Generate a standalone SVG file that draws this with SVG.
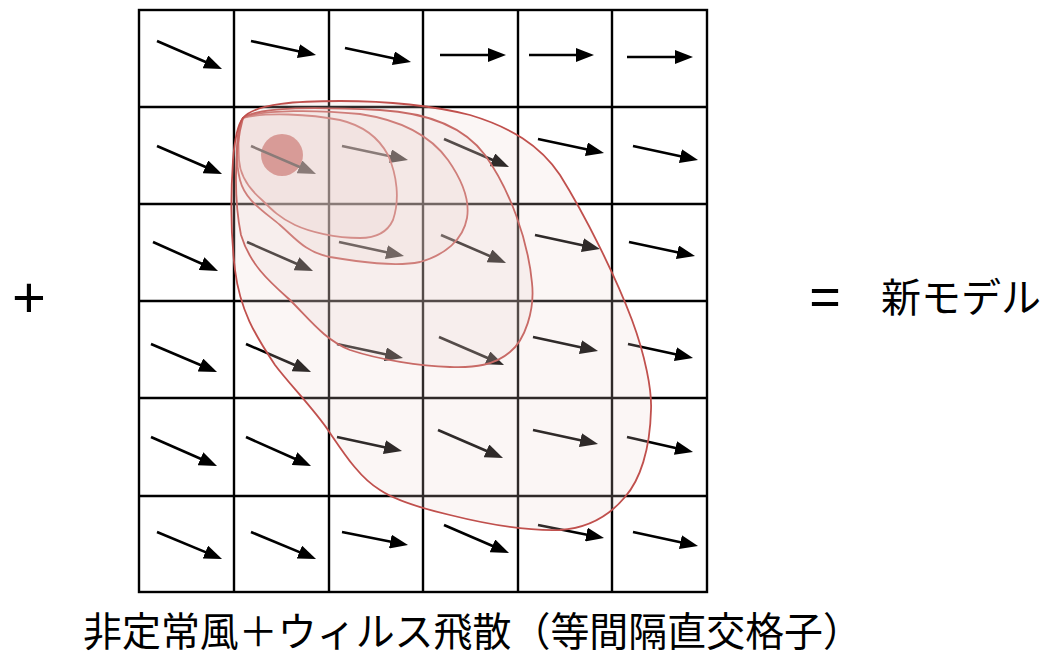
<svg xmlns="http://www.w3.org/2000/svg" width="1051" height="659" viewBox="0 0 1051 659">
<style>
.grid line{stroke:#000;stroke-width:2.4;}
.grid rect{fill:none;stroke:#000;stroke-width:2.4;}
.arr line{stroke:#000;stroke-width:2.6;stroke-dasharray:82 100;marker-end:url(#ah);}
.ct{fill:rgb(235,210,205);fill-opacity:0.2;stroke:#c0504d;stroke-width:1.8;}
.lbl{font-family:"Noto Sans CJK JP","Noto Sans",sans-serif;fill:#000;}
.sym{font-family:"Liberation Sans",Arial,sans-serif;fill:#000;}
</style>
<defs>
<marker id="ah" viewBox="0 0 18 14" refX="18" refY="7" markerWidth="18" markerHeight="14" markerUnits="userSpaceOnUse" orient="auto">
<path d="M0,0 L18,7 L0,14 Z" fill="#000"/>
</marker>
</defs>
<rect width="1051" height="659" fill="#fff"/>
<g id="grid" class="grid">
<rect x="139" y="10" width="568" height="582"/>
<line x1="234" y1="10" x2="234" y2="592"/>
<line x1="329" y1="10" x2="329" y2="592"/>
<line x1="423" y1="10" x2="423" y2="592"/>
<line x1="518" y1="10" x2="518" y2="592"/>
<line x1="612" y1="10" x2="612" y2="592"/>
<line x1="139" y1="107" x2="707" y2="107"/>
<line x1="139" y1="204" x2="707" y2="204"/>
<line x1="139" y1="301" x2="707" y2="301"/>
<line x1="139" y1="398" x2="707" y2="398"/>
<line x1="139" y1="496" x2="707" y2="496"/>
</g>
<g id="source">
<circle cx="282" cy="155" r="21" fill="#c0504d"/>
</g>
<g id="wind-arrows" class="arr">
<line pathLength="100" x1="157" y1="41" x2="222" y2="69"/>
<line pathLength="100" x1="251" y1="41" x2="316" y2="55"/>
<line pathLength="100" x1="345" y1="48" x2="411" y2="62"/>
<line pathLength="100" x1="440" y1="55" x2="506" y2="55"/>
<line pathLength="100" x1="529" y1="55" x2="594" y2="55"/>
<line pathLength="100" x1="627" y1="57" x2="693" y2="57"/>
<line pathLength="100" x1="157" y1="146" x2="222" y2="174"/>
<line pathLength="100" x1="251" y1="146" x2="316" y2="174"/>
<line pathLength="100" x1="342" y1="146" x2="408" y2="160"/>
<line pathLength="100" x1="444" y1="139" x2="509" y2="167"/>
<line pathLength="100" x1="538" y1="139" x2="604" y2="153"/>
<line pathLength="100" x1="633" y1="146" x2="698" y2="160"/>
<line pathLength="100" x1="153" y1="242" x2="218" y2="271"/>
<line pathLength="100" x1="247" y1="242" x2="313" y2="271"/>
<line pathLength="100" x1="339" y1="242" x2="404" y2="256"/>
<line pathLength="100" x1="441" y1="235" x2="506" y2="263"/>
<line pathLength="100" x1="535" y1="235" x2="600" y2="249"/>
<line pathLength="100" x1="629" y1="242" x2="695" y2="256"/>
<line pathLength="100" x1="151" y1="344" x2="217" y2="372"/>
<line pathLength="100" x1="246" y1="344" x2="311" y2="372"/>
<line pathLength="100" x1="337" y1="344" x2="403" y2="358"/>
<line pathLength="100" x1="439" y1="337" x2="504" y2="365"/>
<line pathLength="100" x1="533" y1="337" x2="598" y2="351"/>
<line pathLength="100" x1="628" y1="344" x2="693" y2="358"/>
<line pathLength="100" x1="151" y1="437" x2="217" y2="466"/>
<line pathLength="100" x1="246" y1="437" x2="311" y2="466"/>
<line pathLength="100" x1="337" y1="437" x2="402" y2="451"/>
<line pathLength="100" x1="438" y1="430" x2="503" y2="458"/>
<line pathLength="100" x1="533" y1="430" x2="598" y2="444"/>
<line pathLength="100" x1="627" y1="437" x2="693" y2="452"/>
<line pathLength="100" x1="157" y1="532" x2="222" y2="559"/>
<line pathLength="100" x1="251" y1="532" x2="316" y2="559"/>
<line pathLength="100" x1="342" y1="532" x2="408" y2="545"/>
<line pathLength="100" x1="444" y1="525" x2="509" y2="553"/>
<line pathLength="100" x1="538" y1="525" x2="604" y2="538"/>
<line pathLength="100" x1="633" y1="532" x2="698" y2="546"/>
</g>
<g id="contours">
<path id="contour-4" class="ct" d="M243,118 C265,112 310,114 340,120 C365,126 380,140 388,155 C397,175 400,200 393,220 C387,233 375,238 360,238 C335,238 310,232 295,225 C280,218 272,210 262,200 C248,188 240,175 239,160 C238,140 238,125 243,118 Z"/>
<path id="contour-3" class="ct" d="M243,118 C262,109 320,110 360,114 C400,120 430,135 448,160 C462,180 470,200 467,218 C463,240 445,255 420,262 C395,267 360,262 330,257 C305,252 295,238 280,225 C262,210 245,200 240,180 C235,160 236,130 243,118 Z"/>
<path id="contour-2" class="ct" d="M243,118 C260,106 320,107 380,110 C430,113 465,128 485,155 C510,190 528,240 532,283 C535,310 525,340 510,352 C495,365 475,368 450,367 C420,366 380,360 350,350 C325,340 310,320 290,300 C270,282 250,265 241,235 C234,200 234,150 243,118 Z"/>
<path id="contour-1" class="ct" d="M243,118 C255,103 300,101 340,101 C390,101 430,105 470,115 C510,127 540,145 560,175 C585,215 615,275 632,320 C645,355 652,390 651,410 C650,450 640,480 625,497 C610,515 590,528 560,530 C530,531 490,525 450,515 C420,508 395,500 380,490 C360,478 345,455 330,433 C315,410 290,385 275,365 C255,335 240,310 235,270 C230,230 231,190 233,160 C235,135 238,124 243,118 Z"/>
</g>
<g id="labels">
<text class="sym" x="29" y="317" font-size="58" text-anchor="middle">+</text>
<text class="sym" x="825" y="315" font-size="54" text-anchor="middle">=</text>
<text class="lbl" x="881" y="312" font-size="40">新モデル</text>
<text class="lbl" x="83" y="646" font-size="40" textLength="779" lengthAdjust="spacingAndGlyphs">非定常風＋ウィルス飛散（等間隔直交格子）</text>
</g>
</svg>
